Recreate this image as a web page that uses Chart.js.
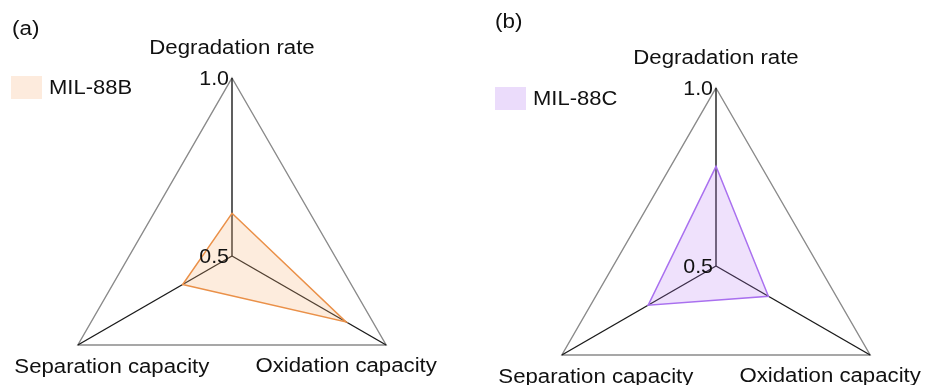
<!DOCTYPE html>
<html>
<head>
<meta charset="utf-8">
<script src="https://cdn.jsdelivr.net/npm/chart.js@4.4.1/dist/chart.umd.min.js"></script>
<style>
  html, body { margin: 0; padding: 0; background: #fff; overflow: hidden; }
  #wrap { position: relative; width: 928px; height: 385px; overflow: hidden; }
  .panel { position: absolute; top: 0; width: 464px; }
</style>
</head>
<body>
<div id="wrap">
  <div class="panel" style="left:0;height:440px"><canvas id="radarA"></canvas></div>
  <div class="panel" style="left:464px;height:450px"><canvas id="radarB"></canvas></div>
</div>
<script>
/* radar charts: MIL-88B vs MIL-88C */

const axes = ['Degradation rate', 'Oxidation capacity', 'Separation capacity'];
const tickValues = [0.5, 1.0];
const tickLabels = ['0.5', '1.0'];

const mil88b = [0.62, 0.87, 0.66];
const mil88c = [0.78, 0.67, 0.72];

const FONT = '"Liberation Sans", Arial, Helvetica, sans-serif';

// label offsets from each outer vertex (top, bottom-right, bottom-left)
const labelOffsets = [[0, -24], [-40, 27], [34, 28]];

// draw text slightly widened
function wideText(ctx, text, x, y, sx) {
  ctx.save();
  ctx.translate(x, y);
  ctx.scale(sx, 1);
  ctx.fillText(text, 0, 0);
  ctx.restore();
}

const decor = {
  id: 'decor',
  afterDraw(chart, args, opts) {
    const ctx = chart.ctx;
    const r = chart.scales.r;
    const R = r.getDistanceFromCenterForValue(r.max);
    ctx.save();
    ctx.fillStyle = '#111';
    ctx.font = '20px ' + FONT;

    // axis names
    ctx.textBaseline = 'alphabetic';
    ctx.textAlign = 'center';
    chart.data.labels.forEach((lab, i) => {
      const p = r.getPointPosition(i, R);
      wideText(ctx, lab, p.x + labelOffsets[i][0], p.y + labelOffsets[i][1], 1.11);
    });

    // panel letter
    ctx.textAlign = 'left';
    wideText(ctx, opts.letter, opts.letterX, opts.letterY, 1.12);

    // legend
    const ds = chart.data.datasets[0];
    ctx.fillStyle = opts.legendFill;
    ctx.fillRect(opts.legendX, opts.legendY, 31, 23);
    ctx.fillStyle = '#111';
    ctx.textBaseline = 'middle';
    wideText(ctx, ds.label, opts.legendX + 38, opts.legendY + 12, 1.1);

    // tick labels along the first axis
    ctx.font = '21px ' + FONT;
    ctx.textAlign = 'right';
    ctx.textBaseline = 'alphabetic';
    tickValues.forEach((v, i) => {
      const p = r.getPointPosition(0, r.getDistanceFromCenterForValue(v));
      wideText(ctx, tickLabels[i], p.x - 3, p.y + 7, 1.02);
    });
    ctx.restore();
  }
};

function makeRadar(id, label, values, line, fill, pad, panel) {
  return new Chart(document.getElementById(id), {
    type: 'radar',
    data: {
      labels: axes,
      datasets: [{
        label: label,
        data: values,
        borderColor: line,
        backgroundColor: fill,
        borderWidth: 1.5,
        pointRadius: 0,
        fill: true
      }]
    },
    options: {
      responsive: true,
      maintainAspectRatio: false,
      animation: false,
      layout: { padding: pad },
      plugins: {
        legend: { display: false },
        tooltip: { enabled: false },
        decor: panel
      },
      scales: {
        r: {
          min: 0.5,
          max: 1.0,
          ticks: { display: false, stepSize: 0.5 },
          grid: { circular: false, color: '#8a8a8a', lineWidth: 1.4 },
          angleLines: { color: '#1a1a1a', lineWidth: 1.4 },
          pointLabels: { display: false }
        }
      }
    },
    plugins: [decor]
  });
}

makeRadar('radarA', 'MIL-88B', mil88b, '#ea9048', 'rgba(246,178,120,0.25)',
  { left: 54, right: 54, top: 78, bottom: 6 },
  { letter: '(a)', letterX: 12, letterY: 35, legendX: 11, legendY: 76, legendFill: '#fdebdd' });

makeRadar('radarB', 'MIL-88C', mil88c, '#a970ef', 'rgba(180,120,240,0.22)',
  { left: 74, right: 34, top: 88, bottom: 6 },
  { letter: '(b)', letterX: 31, letterY: 28, legendX: 31, legendY: 87, legendFill: '#ebdcfb' });
</script>
</body>
</html>
